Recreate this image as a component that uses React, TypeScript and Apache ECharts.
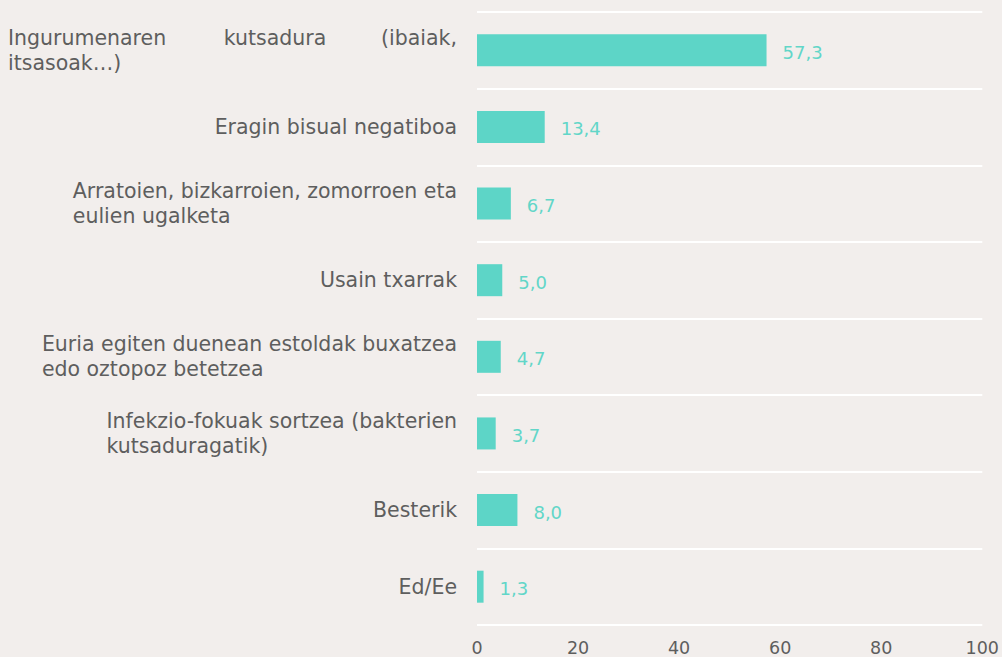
import React, { useEffect, useRef } from "react";
import * as echarts from "echarts";

const categories = [
  "Ingurumenaren kutsadura (ibaiak,\nitsasoak…)",
  "Eragin bisual negatiboa",
  "Arratoien, bizkarroien, zomorroen eta\neulien ugalketa",
  "Usain txarrak",
  "Euria egiten duenean estoldak buxatzea\nedo oztopoz betetzea",
  "Infekzio-fokuak sortzea (bakterien\nkutsaduragatik)",
  "Besterik",
  "Ed/Ee",
];
const values = [57.3, 13.4, 6.7, 5.0, 4.7, 3.7, 8.0, 1.3];
const xTicks = [0, 20, 40, 60, 80, 100];

const FONT = "DejaVu Sans";
const TEXT = "#5e5e5e";
const TEAL = "#5dd5c7";

export default function App() {
  const ref = useRef<HTMLDivElement>(null);
  useEffect(() => {
    if (!ref.current) return;
    const chart = echarts.init(ref.current, null, { renderer: "svg" });
    const base = { fontFamily: FONT, fontSize: 20.5, color: TEXT, lineHeight: 25 };
    chart.setOption({
      animation: false,
      backgroundColor: "#f2eeec",
      grid: { left: 477, right: 17, top: 12, bottom: 32, containLabel: false },
      xAxis: {
        type: "value",
        min: xTicks[0],
        max: xTicks[xTicks.length - 1],
        interval: 20,
        axisLine: { show: false },
        axisTick: { show: false },
        splitLine: { show: false },
        axisLabel: { fontFamily: FONT, fontSize: 17.5, color: TEXT, margin: 14 },
      },
      yAxis: {
        type: "category",
        inverse: true,
        data: categories,
        axisLine: { show: false },
        axisTick: { show: false },
        splitLine: { show: true, lineStyle: { color: "#ffffff", width: 2 } },
        axisLabel: {
          ...base,
          margin: 20,
          align: "right",
          formatter: (v: string, idx: number) => {
            const lines = v.split("\n");
            if (idx === 0) {
              const w = lines[0].split(" ");
              return `{jl|${w[0]}}{jc|${w[1]}}{jr|${w[2]}}\n{l|${lines[1]}}`;
            }
            return lines.map((l) => `{l|${l}}`).join("\n");
          },
          rich: {
            l: { ...base, align: "left" },
            jl: { ...base, align: "left", width: 200 },
            jc: { ...base, align: "center", width: 134 },
            jr: { ...base, align: "right", width: 115 },
          },
        },
      },
      series: [
        {
          type: "bar",
          data: values,
          barWidth: 32,
          itemStyle: { color: TEAL },
          label: {
            show: true,
            position: "right",
            distance: 16,
            offset: [0, 2],
            fontFamily: FONT,
            fontSize: 18,
            color: "#62d6c8",
            formatter: (p: any) => p.value.toFixed(1).replace(".", ","),
          },
        },
      ],
    });
    return () => chart.dispose();
  }, []);
  return (
    <div
      ref={ref}
      style={{ position: "fixed", left: 0, top: 0, width: 1002, height: 657 }}
    />
  );
}
